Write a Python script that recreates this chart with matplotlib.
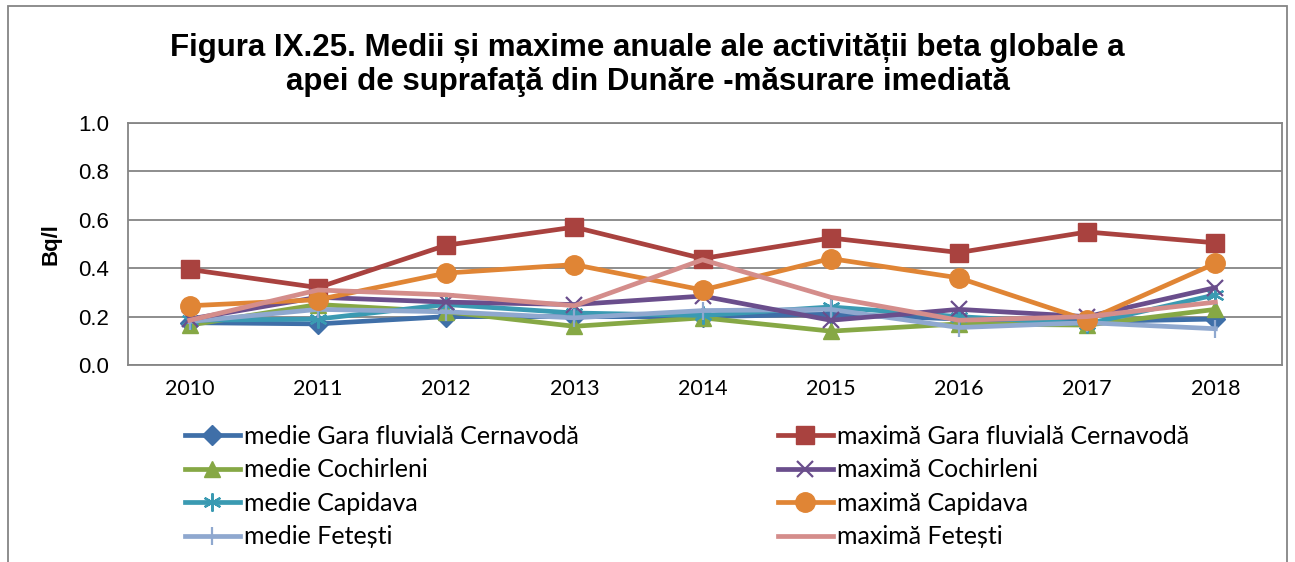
import matplotlib
matplotlib.use("Agg")
import matplotlib.pyplot as plt
from matplotlib.patches import Rectangle

years = ["2010", "2011", "2012", "2013", "2014", "2015", "2016", "2017", "2018"]

medie_gara = [0.175, 0.17, 0.20, 0.20, 0.20, 0.21, 0.19, 0.18, 0.19]
medie_cochirleni = [0.165, 0.25, 0.22, 0.16, 0.195, 0.14, 0.17, 0.165, 0.23]
medie_capidava = [0.185, 0.19, 0.25, 0.215, 0.205, 0.24, 0.20, 0.17, 0.29]
medie_fetesti = [0.18, 0.23, 0.22, 0.195, 0.225, 0.23, 0.155, 0.175, 0.15]

maxima_gara = [0.395, 0.32, 0.495, 0.57, 0.44, 0.525, 0.465, 0.55, 0.505]
maxima_cochirleni = [0.19, 0.28, 0.26, 0.25, 0.285, 0.185, 0.23, 0.20, 0.32]
maxima_capidava = [0.245, 0.27, 0.38, 0.415, 0.31, 0.44, 0.36, 0.185, 0.42]
maxima_fetesti = [0.185, 0.31, 0.29, 0.245, 0.435, 0.28, 0.185, 0.20, 0.26]

series = [
    ("medie Gara fluvială Cernavodă", medie_gara, "#3F6FA8", "D", 10),
    ("medie Cochirleni", medie_cochirleni, "#86A845", "^", 12),
    ("medie Capidava", medie_capidava, "#3A9AB2", (6, 2, 0), 13),
    ("medie Fetești", medie_fetesti, "#8FA8CF", "|", 13),
    ("maximă Gara fluvială Cernavodă", maxima_gara, "#A9423F", "s", 13),
    ("maximă Cochirleni", maxima_cochirleni, "#6A4E8C", "x", 12),
    ("maximă Capidava", maxima_capidava, "#E08535", "o", 14),
    ("maximă Fetești", maxima_fetesti, "#D48D8B", None, 0),
]

fig = plt.figure(figsize=(12.95, 5.62), dpi=100)
ax = fig.add_axes([0.099, 0.3505, 0.891, 0.4305])

x = list(range(len(years)))
handles = []
for label, vals, color, marker, ms in series:
    h, = ax.plot(x, vals, color=color, lw=3.4, marker=marker, markersize=ms,
                 markeredgewidth=1.6 if marker in ("x", "|", (6, 2, 0)) else 1,
                 markeredgecolor=color, markerfacecolor=color, label=label)
    handles.append(h)

ax.set_xlim(-0.48, 8.52)
ax.set_ylim(0, 1.0)
ax.set_yticks([0, 0.2, 0.4, 0.6, 0.8, 1.0])
ax.set_yticklabels(["0.0", "0.2", "0.4", "0.6", "0.8", "1.0"],
                   fontfamily="Liberation Sans", fontsize=16)
ax.set_xticks(x)
ax.set_xticklabels(years, fontfamily="Lato", fontsize=15.5)
ax.tick_params(axis="y", length=0, pad=14)
ax.tick_params(axis="x", length=0, pad=10)
ax.grid(axis="y", color="#858585", lw=1.3)
ax.set_axisbelow(True)
for s in ax.spines.values():
    s.set_color("#858585")
    s.set_linewidth(1.3)

ax.set_ylabel("Bq/l", fontfamily="Liberation Sans", fontweight="bold",
              fontsize=16, labelpad=12)

fig.text(0.50, 0.884, "Figura IX.25. Medii și maxime anuale ale activității beta globale a\n"
         "apei de suprafaţă din Dunăre -măsurare imediată",
         ha="center", va="center", fontfamily="Liberation Sans",
         fontweight="bold", fontsize=22.5, linespacing=1.18)

leg_kw = dict(frameon=False, prop={"family": "Lato", "size": 18},
              handlelength=2.2, handletextpad=0.15, labelspacing=0.42,
              borderaxespad=0, borderpad=0.4)
leg1 = fig.legend(handles=handles[:4], loc="upper left",
                  bbox_to_anchor=(0.135, 0.262), **leg_kw)
leg2 = fig.legend(handles=handles[4:], loc="upper left",
                  bbox_to_anchor=(0.593, 0.262), **leg_kw)

fig.patches.append(Rectangle((0.006, -0.05), 0.988, 1.04, transform=fig.transFigure,
                             fill=False, edgecolor="#858585", lw=1.3))

fig.savefig("out.png", dpi=100)
